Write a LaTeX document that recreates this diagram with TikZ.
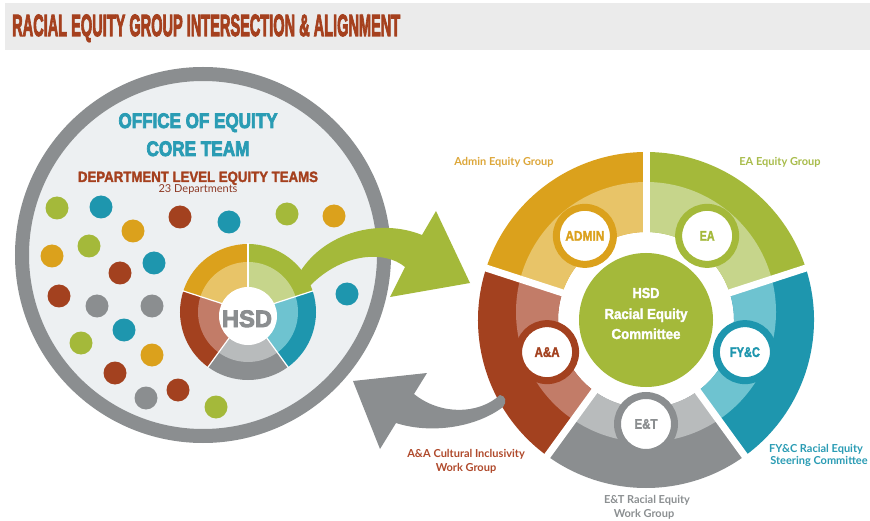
\documentclass[tikz,border=0pt]{standalone}
\usepackage{fontspec}
\setmainfont{Liberation Sans}
\newfontfamily\labelfont{Lato}
% heavier bold for the squeezed headings
\newfontfamily\heavyfont{Liberation Sans}[BoldFeatures={FakeBold=4}]
\newfontfamily\midfont{Liberation Sans}[BoldFeatures={FakeBold=2}]
\usetikzlibrary{calc}

% palette
\definecolor{cGold}{HTML}{DBA11C}
\definecolor{cGoldL}{HTML}{E8C468}
\definecolor{cGreen}{HTML}{A4B93A}
\definecolor{cGreenL}{HTML}{C6D58B}
\definecolor{cTeal}{HTML}{1E96AE}
\definecolor{cTealL}{HTML}{6EC3D0}
\definecolor{cGrey}{HTML}{8B8E90}
\definecolor{cGreyL}{HTML}{B8BBBC}
\definecolor{cRust}{HTML}{A3411F}
\definecolor{cRustL}{HTML}{C27C68}
\definecolor{cBand}{HTML}{EBEBEB}
\definecolor{cPlate}{HTML}{EDF0F2}
\definecolor{cTitle}{HTML}{A5401E}
\definecolor{cTealText}{HTML}{2A9CB4}
\definecolor{cRustDark}{HTML}{8E3B27}
\definecolor{cGoldText}{HTML}{DDA73A}
\definecolor{cGreenText}{HTML}{A8BC4A}
\definecolor{cRustText}{HTML}{B04A2C}
\definecolor{cGreyText}{HTML}{8C9092}

% squeeze a text to a given width, keeping its height
\newcommand\squeeze[2]{\resizebox{#1}{\height}{#2}}

\tikzset{
  deptdot/.style={circle, inner sep=0pt, minimum size=23pt},
  heading/.style={inner sep=0pt, anchor=base},
  caption/.style={inner sep=0pt, anchor=base, font=\labelfont\bfseries\fontsize{11}{13}\selectfont},
  unitring/.style={circle, inner sep=0pt, minimum size=57pt, line width=7pt, fill=white,
    font=\midfont\bfseries\fontsize{14}{14}\selectfont},
}

\begin{document}
\begin{tikzpicture}[x=1pt, y=1pt]
\useasboundingbox (0,0) rectangle (870,520);
\fill[white] (0,0) rectangle (870,520);

% ---------- title band ----------
\fill[cBand] (5,470) rectangle (870,517);
\node[heading, anchor=base west, text=cTitle, font=\heavyfont\bfseries\fontsize{30.7}{31}\selectfont]
  (title) at (12,484) {\squeeze{388pt}{RACIAL EQUITY GROUP INTERSECTION \& ALIGNMENT}};

% ---------- department circle ----------
\coordinate (LC) at (203,265);
\draw[cGrey, line width=14pt, fill=cPlate] (LC) circle[radius=181pt];

\node[heading, text=cTealText, font=\heavyfont\bfseries\fontsize{21}{21}\selectfont]
  (office) at (198,392) {\squeeze{159pt}{OFFICE OF EQUITY}};
\node[heading, text=cTealText, font=\heavyfont\bfseries\fontsize{21}{21}\selectfont]
  (core) at (198,364) {\squeeze{103pt}{CORE TEAM}};
\node[heading, text=cTitle, font=\midfont\bfseries\fontsize{15}{15}\selectfont]
  (deptteams) at (198,338) {\squeeze{240pt}{DEPARTMENT LEVEL EQUITY TEAMS}};
\node[heading, text=cRustDark, font=\labelfont\fontsize{11}{11}\selectfont]
  (deptcount) at (198,327) {23 Departments};

% department dots
\foreach \n/\x/\y/\col in {
  1/57/312/cGreen, 2/101/313/cTeal, 3/180/303/cRust, 4/229/298/cTeal,
  5/287/306/cGreen, 6/334/304/cGold, 7/133/289/cGold, 8/89/274/cGreen,
  9/52/264/cGold, 10/154/257/cTeal, 11/120/247/cRust, 12/59/224/cRust,
  13/97/214/cGrey, 14/152/214/cGrey, 15/124/190/cTeal, 16/81/177/cGreen,
  17/152/165/cGold, 18/115/147/cRust, 19/178/130/cRust, 20/146/122/cGrey,
  21/216/113/cGreen, 22/347/226/cTeal}
  \node[deptdot, fill=\col] (dot\n) at (\x,\y) {};

% HSD wheel inside the department circle
\coordinate (HC) at (248,208);
\foreach \a/\b/\col in {90/162/cGold, 18/90/cGreen, -54/18/cTeal, -126/-54/cGrey, 162/234/cRust}
  \fill[\col] (HC) -- ([shift={(\a:68pt)}]HC) arc[start angle=\a, end angle=\b, radius=68pt] -- cycle;
\foreach \a/\b/\col in {90/162/cGoldL, 18/90/cGreenL, -54/18/cTealL, -126/-54/cGreyL, 162/234/cRustL}
  \fill[\col] (HC) -- ([shift={(\a:50pt)}]HC) arc[start angle=\a, end angle=\b, radius=50pt] -- cycle;
\foreach \a in {90,18,-54,-126,162}
  \draw[white, line width=1.2pt] (HC) -- ([shift={(\a:69pt)}]HC);
\node[circle, fill=white, inner sep=0pt, minimum size=58pt] (hsdhub) at (248,204) {};
\node[heading, text=cGrey, font=\heavyfont\bfseries\fontsize{23.7}{24}\selectfont]
  (hsdlabel) at (247,193) {\squeeze{50pt}{HSD}};

% green arrow out of the wheel
\fill[cGreen] (300,248) .. controls (325,288) and (380,302) .. (422,285)
  -- (436,309) -- (470,237) -- (390,223) -- (405,253)
  .. controls (385,270) and (340,268) .. (306,230) -- cycle;

% ---------- racial equity committee ring ----------
\coordinate (RC) at (646,200);
\foreach \a/\b/\col in {90/162/cGold, 18/90/cGreen, -54/18/cTeal, -126/-54/cGrey, 162/234/cRust}
  \fill[\col] ([shift={(\a:88pt)}]RC) arc[start angle=\a, end angle=\b, radius=88pt]
    -- ([shift={(\b:168pt)}]RC) arc[start angle=\b, end angle=\a, radius=168pt] -- cycle;
\begin{scope}
  \clip ([yshift=8pt]RC) circle[radius=130pt];
  \foreach \a/\b/\col in {90/162/cGoldL, 18/90/cGreenL, -54/18/cTealL, -126/-54/cGreyL, 162/234/cRustL}
    \fill[\col] ([shift={(\a:88pt)}]RC) arc[start angle=\a, end angle=\b, radius=88pt]
      -- ([shift={(\b:168pt)}]RC) arc[start angle=\b, end angle=\a, radius=168pt] -- cycle;
\end{scope}
\foreach \a in {90,18,-54,-126,162}
  \draw[white, line width=7pt] ([shift={(\a:80pt)}]RC) -- ([shift={(\a:174pt)}]RC);

\node[circle, fill=cGreen, inner sep=0pt, minimum size=134pt] (committee) at (RC) {};
\node[heading, text=white, font=\midfont\bfseries\fontsize{14.5}{15}\selectfont]
  (cmtA) at (646,222) {\squeeze{27pt}{HSD}};
\node[heading, text=white, font=\midfont\bfseries\fontsize{14.5}{15}\selectfont]
  (cmtB) at (646,201) {\squeeze{83pt}{Racial Equity}};
\node[heading, text=white, font=\midfont\bfseries\fontsize{14.5}{15}\selectfont]
  (cmtC) at (646,181) {\squeeze{69pt}{Committee}};

\node[unitring, draw=cGold, text=cGold] (admin) at ([shift={(126:104pt)}]RC) {\squeeze{39pt}{ADMIN}};
\node[unitring, draw=cGreen, text=cGreen] (ea) at ([shift={(54:104pt)}]RC) {\squeeze{15pt}{EA}};
\node[unitring, draw=cTeal, text=cTeal] (fyc) at ([shift={(-18:104pt)}]RC) {\squeeze{30pt}{FY\&C}};
\node[unitring, draw=cGrey, text=cGrey] (et) at ([shift={(-90:104pt)}]RC) {\squeeze{23pt}{E\&T}};
\node[unitring, draw=cRust, text=cRust] (aa) at ([shift={(198:104pt)}]RC) {\squeeze{25pt}{A\&A}};

% group captions
\node[caption, text=cGoldText] (capAdmin) at (504,354) {Admin Equity Group};
\node[caption, text=cGreenText] (capEA) at (780,354) {EA Equity Group};
\node[caption, text=cTealText] (capFYC1) at (816,68) {FY\&C Racial Equity};
\node[caption, text=cTealText] (capFYC2) at (819,56) {Steering Committee};
\node[caption, text=cRustText] (capAA1) at (466,63) {A\&A Cultural Inclusivity};
\node[caption, text=cRustText] (capAA2) at (466,49) {Work Group};
\node[caption, text=cGreyText] (capET1) at (647,17) {E\&T Racial Equity};
\node[caption, text=cGreyText] (capET2) at (644,3) {Work Group};

% grey arrow back to the department circle
\fill[cGrey] (353,139) -- (427,147) -- (414,126)
  .. controls (440,105) and (478,105) .. (500,125)
  .. controls (506,124) and (507,118) .. (503,113)
  .. controls (475,92) and (430,86) .. (396,97)
  -- (380,71) -- cycle;

\end{tikzpicture}
\end{document}
